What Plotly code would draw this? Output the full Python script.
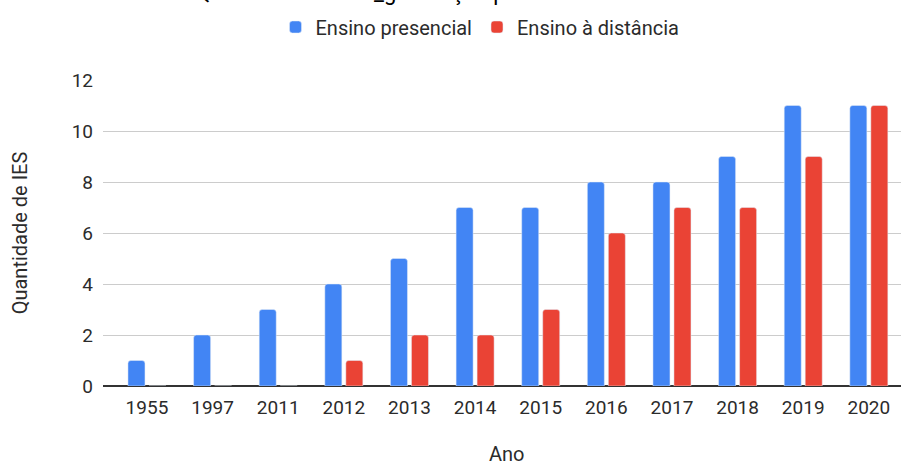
import plotly.graph_objects as go

anos = ["1955", "1997", "2011", "2012", "2013", "2014", "2015", "2016", "2017", "2018", "2019", "2020"]
presencial = [1, 2, 3, 4, 5, 7, 7, 8, 8, 9, 11, 11]
distancia = [0, 0, 0, 1, 2, 2, 3, 6, 7, 7, 9, 11]

FONT = "Roboto"
TXT = "#2b2b2b"
fig = go.Figure()
fig.add_trace(go.Bar(x=anos, y=presencial, name="Ensino presencial", marker_color="#4285F4"))
fig.add_trace(go.Bar(x=anos, y=distancia, name="Ensino à distância", marker_color="#EA4335"))

fig.update_layout(
    width=901, height=465,
    margin=dict(l=103, r=0, t=80, b=79, autoexpand=False),
    paper_bgcolor="white", plot_bgcolor="white",
    barmode="group", bargap=0.36, bargroupgap=0.19,
    barcornerradius=3,
    font=dict(family=FONT, size=19, color=TXT),
    title=dict(text="Quantidade de IES_graduação por ano e modalidade", x=0.5, xanchor="center",
               y=1.0, yanchor="bottom", yref="container",
               font=dict(family=FONT, size=22, color="#000000")),
    legend=dict(orientation="h", x=480 / 901, xanchor="center", xref="container",
                y=1 - 27 / 465, yanchor="middle", yref="container",
                font=dict(size=20, color=TXT), traceorder="normal"),
    showlegend=True,
    xaxis=dict(type="category", range=[-0.67, 11.49], showgrid=False, ticks="",
               ticklabelstandoff=8, automargin=False,
               tickfont=dict(size=19, color=TXT), showline=False),
    yaxis=dict(range=[0, 12], dtick=2, showgrid=True, gridcolor="#cccccc", gridwidth=1,
               zeroline=True, zerolinecolor="#333333", zerolinewidth=2,
               ticklabelstandoff=9, automargin=False,
               title=dict(text="Quantidade de IES", font=dict(size=20, color=TXT), standoff=38),
               tickfont=dict(size=19, color=TXT), ticks="", ticklen=0),
    annotations=[dict(text="Ano", xref="paper", yref="paper", x=(507 - 103) / 798,
                      y=(386 - 454) / 306, xanchor="center", yanchor="middle",
                      showarrow=False, font=dict(size=20, color=TXT, family=FONT))],
)
fig.write_html("out.html")
